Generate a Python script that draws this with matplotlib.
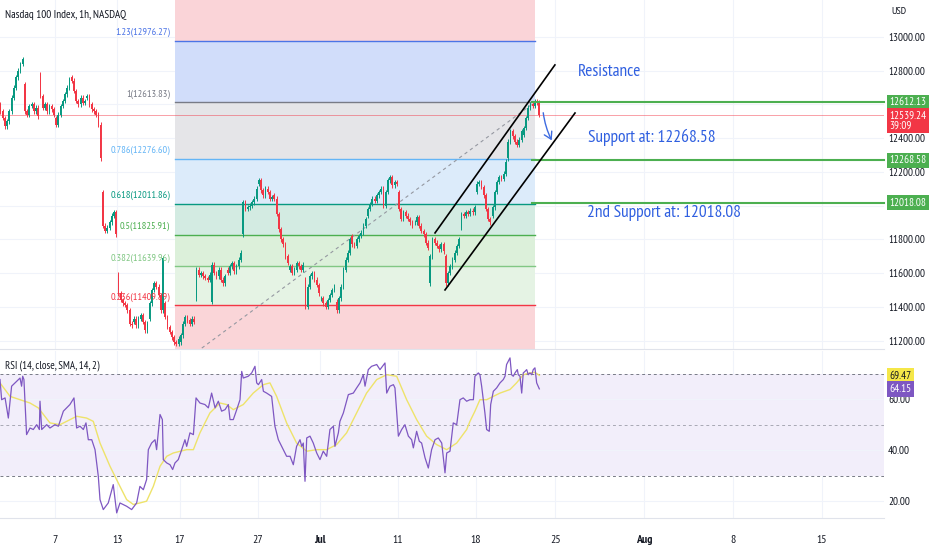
import numpy as np
import matplotlib
matplotlib.use("Agg")
import matplotlib.pyplot as plt
import matplotlib.transforms as mtransforms

plt.rcParams['font.family'] = ['PT Sans Narrow', 'DejaVu Sans']

UP = '#089981'
DOWN = '#f23645'
TEXT = '#131722'
GRID = '#f0f3fa'
BLUE_TXT = '#2f5fe0'

# === Candles: trading day index 0 = Jun 1 2022, 7 hourly bars per day ===
FIRST_BAR = 3
BARS_PER_DAY = 7
day_opens = [12600, 12500, 12720, 12780, 12520, 12760, 12640, 12080, 11590, 11310,
             11330, 11420, 11190, 11450, 11430, 11620, 11830, 12130, 12060, 11620,
             11560, 11450, 11430, 11820, 11940, 12100, 12080, 11900, 11540, 11700,
             11870, 12080, 11940, 12280, 12420, 12610]
day_closes = [
    [12560, 12520, 12470, 12500],                         # Jun 1
    [12560, 12640, 12700, 12760, 12800, 12840, 12870],    # Jun 2
    [12560, 12540, 12590, 12600, 12560, 12580, 12530],    # Jun 3
    [12650, 12580, 12600, 12560, 12590, 12570, 12540],    # Jun 6
    [12480, 12540, 12590, 12620, 12660, 12700, 12750],    # Jun 7
    [12740, 12680, 12620, 12600, 12640, 12610, 12620],    # Jun 8
    [12650, 12600, 12570, 12560, 12540, 12480, 12280],    # Jun 9
    [11880, 11850, 11870, 11900, 11940, 11960, 11830],    # Jun 10
    [11480, 11440, 11420, 11410, 11380, 11300, 11290],    # Jun 13
    [11330, 11290, 11330, 11350, 11310, 11260, 11300],    # Jun 14
    [11420, 11500, 11540, 11520, 11470, 11380, 11690],    # Jun 15
    [11340, 11280, 11250, 11220, 11190, 11180, 11210],    # Jun 16
    [11230, 11300, 11340, 11320, 11300, 11330, 11310],    # Jun 17
    [11620, 11590, 11600, 11580, 11570, 11560, 11590],    # Jun 21
    [11650, 11600, 11580, 11620, 11560, 11540, 11580],    # Jun 22
    [11600, 11640, 11660, 11610, 11640, 11680, 11720],    # Jun 23
    [12020, 11980, 11990, 12000, 12020, 12040, 12100],    # Jun 24
    [12150, 12090, 12060, 12100, 12080, 12040, 12050],    # Jun 27
    [12040, 11950, 11860, 11800, 11770, 11700, 11660],    # Jun 28
    [11640, 11600, 11620, 11660, 11640, 11620, 11650],    # Jun 29
    [11400, 11520, 11580, 11600, 11560, 11530, 11480],    # Jun 30
    [11450, 11420, 11400, 11440, 11470, 11500, 11520],    # Jul 1
    [11380, 11450, 11520, 11620, 11680, 11720, 11800],    # Jul 5
    [11770, 11760, 11800, 11820, 11840, 11880, 11920],    # Jul 6
    [11980, 12010, 12040, 12030, 12060, 12080, 12100],    # Jul 7
    [12000, 12080, 12150, 12170, 12120, 12140, 12130],    # Jul 8
    [11980, 11920, 11960, 11940, 11920, 11900, 11880],    # Jul 11
    [11900, 11930, 11880, 11850, 11830, 11780, 11750],    # Jul 12
    [11700, 11800, 11780, 11760, 11740, 11770, 11730],    # Jul 13
    [11540, 11600, 11640, 11680, 11720, 11760, 11800],    # Jul 14
    [11950, 11940, 11960, 11950, 11970, 11960, 11990],    # Jul 15
    [12130, 12140, 12110, 12060, 11980, 11920, 11900],    # Jul 18
    [11990, 12080, 12140, 12170, 12160, 12190, 12260],    # Jul 19
    [12380, 12440, 12410, 12380, 12360, 12390, 12440],    # Jul 20
    [12460, 12520, 12580, 12600, 12590, 12620, 12610],    # Jul 21
    [12539.24],                                           # Jul 22
]
WICK = 14

last_price = 12539.24
countdown = '39:09'

# === Fibonacci retracement ===
fib_names = ['0', '0.236', '0.382', '0.5', '0.618', '0.786', '1', '1.23', '1.618']
fib_prices = [11037.99, 11409.89, 11639.96, 11825.91, 12011.86, 12276.60, 12613.83, 12976.27, 13587.73]
fib_line_colors = ['#787b86', '#f23645', '#81c784', '#4caf50', '#089981', '#64b5f6', '#787b86', '#4c74e6', '#2962ff']
fib_fill_colors = ['#fad5d8', '#e5f3e4', '#dcf0da', '#d3ebe2', '#dcebfa', '#e5e5e8', '#d1ddfa', '#fad4d8']
fib_start, fib_end = 11.70, 34.79
fib_label_day = 11.38

# === Drawings ===
sr_levels = [12612.13, 12268.58, 12018.08]
sr_start = 34.6
channel_days = [[28.38, 36.07], [29.02, 37.36]]
channel_prices = [[11838, 12834], [11500, 12549]]
arrow_from = (35.30, 12567)
arrow_to = (35.95, 12372)
notes = ['Resistance', 'Support at: 12268.58', '2nd Support at: 12018.08']
note_days = [37.55, 38.22, 38.13]
note_prices = [12790, 12407, 11955]

# === RSI (14) and its SMA (14) ===
rsi_days = [0.475, 0.58, 0.80, 1.01, 1.22, 1.54, 1.76, 1.86, 1.93, 2.01, 2.18, 2.40, 2.61, 2.83,
            3.00, 3.04, 3.15, 3.47, 3.68, 4.00, 4.22, 4.54, 4.96, 5.22, 5.39, 5.61, 5.82, 5.99,
            6.14, 6.36, 6.57, 6.78, 6.89, 7.10, 7.42, 7.74, 7.96, 8.17, 8.60, 8.92, 9.24, 9.45,
            9.67, 9.88, 9.99, 10.20, 10.42, 10.52, 10.74, 10.89, 10.95, 11.17, 11.38, 11.55,
            11.70, 11.91, 12.13, 12.34, 12.45, 12.66, 12.88, 13.05, 13.30, 13.62, 13.84, 14.05,
            14.27, 14.48, 14.69, 14.91, 15.12, 15.23, 15.44, 15.66, 15.87, 15.98, 16.08, 16.40,
            16.62, 16.83, 16.94, 17.05, 17.26, 17.37, 17.58, 17.90, 18.11, 18.33, 18.65, 18.86,
            19.08, 19.29, 19.50, 19.72, 19.83, 19.93, 20.04, 20.15, 20.36, 20.57, 20.79, 21.00,
            21.21, 21.43, 21.64, 21.86, 21.96, 22.18, 22.28, 22.50, 22.82, 23.14, 23.35, 23.57,
            23.78, 23.89, 24.10, 24.31, 24.64, 24.85, 25.17, 25.28, 25.49, 25.71, 25.81, 26.03,
            26.24, 26.45, 26.67, 26.88, 26.99, 27.20, 27.37, 27.52, 27.74, 27.95, 28.16, 28.38,
            28.59, 28.81, 29.02, 29.13, 29.34, 29.55, 29.77, 29.98, 30.19, 30.41, 30.62, 30.84,
            30.94, 31.16, 31.26, 31.37, 31.58, 31.69, 31.86, 31.95, 32.12, 32.33, 32.55, 32.76,
            32.87, 32.97, 33.19, 33.29, 33.40, 33.51, 33.66, 33.72, 33.83, 33.94, 34.04, 34.15,
            34.26, 34.36, 34.47, 34.58, 34.68, 34.79, 34.90, 35.07]
rsi_vals = [67.8, 59.9, 60.6, 52.7, 65.2, 67.1, 68.4, 65.2, 69.1, 67.8, 46.2, 48.8, 48.2, 50.1,
            48.2, 59.3, 48.2, 50.1, 48.8, 50.1, 49.5, 55.4, 58.0, 60.6, 48.8, 49.5, 48.2, 50.8,
            44.2, 44.2, 40.3, 29.9, 20.7, 16.8, 19.4, 26.6, 15.5, 19.4, 18.1, 16.8, 19.4, 25.9,
            24.6, 28.6, 40.3, 42.9, 44.2, 40.3, 54.1, 52.1, 36.4, 35.1, 34.4, 32.5,
            35.1, 36.4, 40.3, 44.2, 41.6, 46.9, 46.2, 60.6, 58.6, 58.0, 56.7, 62.5,
            56.7, 59.3, 55.4, 56.0, 58.0, 52.1, 52.1, 56.0, 59.9, 71.0, 68.4, 69.1,
            70.4, 73.0, 66.5, 65.8, 67.8, 63.2, 62.5, 61.2, 49.5, 44.2, 40.3, 37.7,
            37.7, 34.4, 41.6, 44.2, 41.6, 42.9, 27.9, 44.9, 45.6, 42.9, 39.0, 36.4,
            39.7, 37.7, 48.2, 49.5, 41.6, 46.9, 51.4, 54.7, 61.9, 62.5, 64.5, 66.5,
            69.7, 65.2, 71.7, 73.0, 73.7, 71.7, 74.3, 62.5, 65.2, 65.8, 64.5, 45.6,
            48.2, 50.1, 45.6, 44.2, 41.0, 47.5, 43.6, 42.9, 37.1, 33.1, 40.3, 44.2,
            44.9, 42.9, 31.2, 39.0, 39.7, 50.8, 50.1, 59.9, 60.6, 59.3, 59.9, 59.9,
            69.1, 70.4, 69.7, 65.2, 54.7, 48.2, 47.5, 58.0, 63.2, 64.5, 66.5, 67.8,
            69.1, 73.7, 76.3, 69.7, 69.1, 70.4, 71.7, 69.7, 69.1, 62.5, 70.4, 71.0,
            71.7, 69.7, 70.4, 69.7, 71.7, 72.4, 66.5, 64.15]
sma_days = [0.475, 1.12, 1.76, 2.40, 2.93, 3.68, 4.32, 4.75, 5.39, 6.03, 6.46, 6.89, 7.53, 8.17,
            8.60, 9.03, 9.45, 9.88, 10.31, 10.74, 11.17, 11.59, 12.45, 12.88, 13.30, 13.94, 14.59,
            15.01, 15.44, 16.08, 16.72, 17.37, 17.79, 18.22, 18.86, 19.50, 20.15, 20.79, 21.43,
            22.07, 22.71, 23.35, 23.99, 24.64, 25.28, 25.92, 26.56, 27.20, 27.84, 28.48, 29.13,
            29.77, 30.41, 30.62, 30.94, 31.26, 31.69, 32.12, 32.55, 33.19, 33.61, 34.04, 34.47,
            34.79, 35.07]
sma_vals = [66.5, 61.2, 59.9, 58.6, 56.7, 50.8, 50.1, 51.4, 53.4, 52.7, 51.4, 42.9, 33.8, 25.9,
            20.7, 18.8, 19.4, 20.1, 25.9, 33.8, 37.7, 39.0, 40.3, 40.3, 46.9, 54.7, 58.6,
            58.0, 56.0, 58.0, 62.5, 65.8, 66.5, 61.2, 50.8, 42.9, 39.7, 40.3, 40.3,
            42.3, 46.9, 54.7, 62.5, 67.8, 69.7, 69.1, 59.9, 52.1, 45.6, 42.3, 40.3,
            42.9, 48.2, 51.4, 55.4, 59.9, 59.9, 61.2, 62.5, 63.9, 66.5, 69.7, 70.4,
            70.6, 69.47]
rsi_last, sma_last = 64.15, 69.47

# === Axes ===
tick_days = [4, 8, 12, 17, 21, 26, 31, 36.1, 41.8, 47.5, 53.2]
tick_labels = ['7', '13', '17', '27', 'Jul', '11', '18', '25', 'Aug', '8', '15']
price_ticks = [11200, 11400, 11600, 11800, 12000, 12200, 12400, 12600, 12800, 13000]
hidden_ticks = [12000, 12600]   # covered by the level boxes on the scale
rsi_ticks = [20, 40, 60]
XMIN, XMAX = 0.475, 57.18


def build_candles():
    xs, opens, closes = [], [], []
    for d, (op, cl) in enumerate(zip(day_opens, day_closes)):
        start = FIRST_BAR if d == 0 else 0
        prev = op
        for j, v in enumerate(cl):
            xs.append(d + (start + j + 0.5) / BARS_PER_DAY)
            opens.append(prev)
            closes.append(v)
            prev = v
    return np.array(xs), np.array(opens, float), np.array(closes, float)


def price_box(ax, y, text, fc, tc='white', va='center'):
    tr = mtransforms.blended_transform_factory(ax.transAxes, ax.transData)
    ax.text(1.006, y, text, transform=tr, ha='left', va=va, fontsize=8.0, color=tc,
            linespacing=1.05, zorder=20, clip_on=False,
            bbox=dict(boxstyle='square,pad=0.25', fc=fc, ec='none'))


fig = plt.figure(figsize=(9.32, 5.5), dpi=100)
ax = fig.add_axes([0, 0.3655, 0.9485, 0.6345])
rx = fig.add_axes([0, 0.0582, 0.9485, 0.3036], sharex=ax)

# --- price pane ---
ax.set_xlim(XMIN, XMAX)
ax.set_ylim(11150, 13219)
for p in price_ticks:
    ax.axhline(p, color=GRID, lw=0.8, zorder=0)
for t in tick_days:
    ax.axvline(t, color=GRID, lw=0.8, zorder=0)

for i in range(len(fib_fill_colors)):
    ax.fill_between([fib_start, fib_end], fib_prices[i], fib_prices[i + 1],
                    color=fib_fill_colors[i], lw=0, zorder=0.5)
for name, p, col in zip(fib_names, fib_prices, fib_line_colors):
    if not 11150 < p < 13219:
        continue
    ax.plot([fib_start, fib_end], [p, p], color=col, lw=1.0, zorder=1)
    ax.annotate(f'{name}({p:.2f})', (fib_label_day, p), xytext=(0, 2.5), textcoords='offset points',
                ha='right', va='bottom', fontsize=7.4, color=col, zorder=6)
ax.plot([fib_start, fib_end], [fib_prices[0], fib_prices[6]], color='#9598a1', lw=0.8,
        ls=(0, (3, 3)), zorder=1.5)

ax.axhline(last_price, color=DOWN, lw=0.6, alpha=0.55, zorder=1.6)

xs, o, c = build_candles()
up = c >= o
cols = np.where(up, UP, DOWN)
hi = np.maximum(o, c) + WICK
lo = np.minimum(o, c) - WICK
ax.vlines(xs, lo, hi, colors=cols, lw=0.7, zorder=3)
body = np.where(np.abs(c - o) < 5, 5, np.abs(c - o))
ax.bar(xs, body, bottom=np.minimum(o, c), width=0.11, color=cols, lw=0, zorder=3.5)

for lv in sr_levels:
    ax.plot([sr_start, XMAX], [lv, lv], color='#4caf50', lw=1.5, zorder=4, clip_on=False)
for dd, pp in zip(channel_days, channel_prices):
    ax.plot(dd, pp, color='black', lw=1.2, zorder=4)
ax.annotate('', xy=arrow_to, xytext=arrow_from,
            arrowprops=dict(arrowstyle='->,head_length=0.5,head_width=0.3', color='#3d6be0',
                            lw=1.0, connectionstyle='arc3,rad=0.1'), zorder=5)
for txt, dx, py in zip(notes, note_days, note_prices):
    ax.text(dx, py, txt, color=BLUE_TXT, fontsize=12.5, ha='left', va='center', zorder=6)

ax.text(0.006, 0.957, 'Nasdaq 100 Index, 1h, NASDAQ', transform=ax.transAxes, fontsize=8.1,
        color=TEXT, ha='left', va='center', zorder=6)

ax.yaxis.tick_right()
ax.set_yticks(price_ticks)
ax.set_yticklabels(['' if p in hidden_ticks else f'{p:.2f}' for p in price_ticks])
ax.tick_params(axis='y', length=0, pad=3, labelsize=8.0, labelcolor=TEXT)
ax.tick_params(axis='x', length=0, labelbottom=False)
for s in ax.spines.values():
    s.set_visible(False)
ax.spines['bottom'].set_visible(True)
ax.spines['bottom'].set_color('#e0e3eb')
ax.text(1.008, 0.966, 'USD', transform=ax.transAxes, fontsize=7.5, color=TEXT,
        ha='left', va='center', clip_on=False)

price_box(ax, sr_levels[0], f'{sr_levels[0]:.2f}', '#4caf50')
price_box(ax, 12565, f'{last_price:.2f}\n{countdown}', DOWN, va='top')
price_box(ax, sr_levels[1], f'{sr_levels[1]:.2f}', '#4caf50')
price_box(ax, sr_levels[2], f'{sr_levels[2]:.2f}', '#4caf50')

# --- RSI pane ---
rx.set_ylim(13.5, 79)
for t in tick_days:
    rx.axvline(t, color=GRID, lw=0.8, zorder=0)
for r in rsi_ticks:
    rx.axhline(r, color=GRID, lw=0.8, zorder=0.2)
rx.fill_between([XMIN, XMAX], 30, 70, color='#f2eefa', lw=0, zorder=0.1)
for r, a in ((70, 1.0), (50, 0.6), (30, 1.0)):
    rx.axhline(r, color='#787b86', lw=0.7, ls=(0, (3, 3)), alpha=a, zorder=1)
rx.plot(rsi_days, rsi_vals, color='#7e57c2', lw=0.9, zorder=3)
rx.plot(sma_days, sma_vals, color='#eee36a', lw=1.0, zorder=2)
rx.text(0.006, 0.915, 'RSI (14, close, SMA, 14, 2)', transform=rx.transAxes, fontsize=7.8,
        color=TEXT, ha='left', va='center')

rx.yaxis.tick_right()
rx.set_yticks(rsi_ticks)
rx.set_yticklabels([f'{r:.2f}' for r in rsi_ticks])
rx.tick_params(axis='y', length=0, pad=3, labelsize=8.0, labelcolor=TEXT)
price_box(rx, sma_last, f'{sma_last:.2f}', '#f5e748', tc=TEXT)
price_box(rx, rsi_last, f'{rsi_last:.2f}', '#7e57c2')

rx.set_xticks(tick_days)
rx.set_xticklabels(tick_labels)
rx.tick_params(axis='x', length=0, pad=12, labelsize=8.5, labelcolor=TEXT)
for lab in rx.get_xticklabels():
    if lab.get_text() in ('Jul', 'Aug'):
        lab.set_fontweight('bold')
for s in rx.spines.values():
    s.set_visible(False)
rx.spines['bottom'].set_visible(True)
rx.spines['bottom'].set_color('#e0e3eb')

fig.savefig('out.png', dpi=100)
